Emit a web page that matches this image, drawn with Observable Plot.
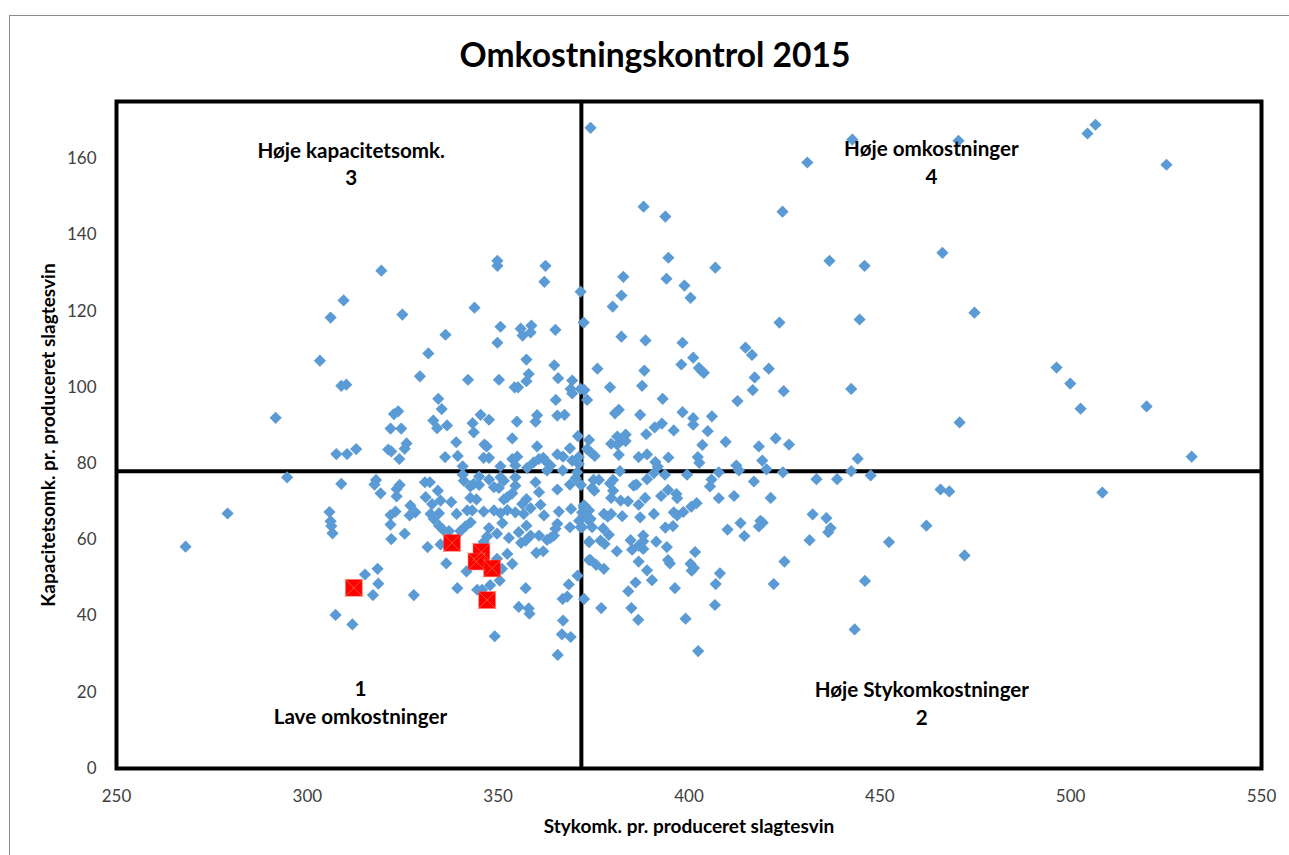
<!DOCTYPE html>
<html>
<head>
<meta charset="utf-8">
<style>
html,body{margin:0;padding:0;background:#fff;overflow:hidden}
#wrap{position:relative;width:1289px;height:855px;overflow:hidden}
#border{position:absolute;left:9px;top:15px;width:1400px;height:1000px;border:1.5px solid #8c8c8c;box-sizing:border-box}
#title{position:absolute;left:355px;width:600px;top:31px;text-align:center;font:700 33.6px Lato,sans-serif;color:#000;line-height:46px;white-space:nowrap}
svg{position:absolute;left:0;top:0}
</style>
<script src="https://cdn.jsdelivr.net/npm/d3@7"></script>
<script src="https://cdn.jsdelivr.net/npm/@observablehq/plot@0.6"></script>
</head>
<body>
<div id="wrap"><div id="border"></div><div id="title">Omkostningskontrol 2015</div></div>
<script>
const titleText = "Omkostningskontrol 2015";
const xLabel = "Stykomk. pr. produceret slagtesvin";
const yLabel = "Kapacitetsomk. pr. produceret slagtesvin";
const xTicks = [250,300,350,400,450,500,550];
const yTicks = [0,20,40,60,80,100,120,140,160];
const xDivider = 371.8;
const yDivider = 78;

const stykomk = [
303.3,331.7,357.4,364.7,329.5,342.1,350.2,358,357.4,365.7,369.4,308.9,310.2,354.3,355.2,369,369.4,371.6,372.6,373.3,
365.1,334.3,335.2,291.7,323.8,322.7,345.4,360.2,365.5,367.4,359.8,347.6,343.3,333,336.6,334,354.9,321.8,324.6,343.6,
370.9,353.7,339,326,325.5,346.4,347,360.2,368.8,373.8,312.8,310.4,307.6,321.2,322,324.1,336.1,339.4,346.2,347.6,
365.5,367,355,353.7,354.5,359.3,360.7,361.8,362.8,363.7,369.4,371.1,371.1,350.6,340.7,357.6,362.8,366.9,370.7,340.7,
345,294.7,341,347.6,350.6,354.5,351.5,370.3,318,317.6,308.9,330.8,332.1,359.8,365.5,368.8,371.7,343.6,345,342.7,
348.9,350.2,354.5,324.2,323.4,334.2,319.2,360.7,323.4,331,342.7,344.3,352.4,353.7,351.5,357.4,334.9,332.7,337.7,356.3,
361.1,327,369.1,372.6,373.3,328.3,323.1,321.8,326.8,305.8,332.3,334.5,339.1,341.9,343.2,346.2,348.9,350.6,352.4,354.5,
356.7,358.5,362,365.9,
306.1,306.3,306.6,321.8,322,325.5,333.1,334.5,335.6,337.1,342.8,341.4,340.1,351.1,347.6,357.4,355.4,352.8,349.7,347.1,
346.2,365.5,365,368.8,372,358.5,357.2,356,360.7,362.8,364.6,363.7,373.8,360,361.8,334.9,331.5,352.4,336.4,353.7,
349.7,351,373.8,341.7,315.1,318.4,318.6,317.2,327.9,339.3,344.5,345.8,347.9,350.4,357.2,370.8,368.5,366.9,368.1,372.5,
355.4,358,358.2,367,366.7,369,349.1,307.4,311.8,365.6,
416.5,401.1,398,420.9,376,388.3,402.6,403.2,403.9,417.2,379.3,387.7,416.7,424.8,442.5,393.1,412.7,381.6,380.6,387.2,
398.3,401.1,406,392.9,391,401.1,396,404.9,388.8,383.4,381.2,382.5,379.6,381.2,383.4,409.6,403.5,422.7,418.3,426.2,
373.3,374.2,375.3,381.6,386.8,389,394.6,402.3,402.7,391.2,391.8,419.2,444.2,412.4,413.1,420.3,381.9,390.8,393.7,399.5,
407.8,424.6,442.5,447.6,389,375,376.4,380.1,379.3,386.2,385.5,405.9,405.5,417,433.4,438.8,374.6,375.2,380.1,379.6,
394.5,396.7,396.9,392.7,388.5,382.1,384,386.8,407.8,411.8,421.4,402,400.6,398.5,396,396.9,390.8,382.5,387.2,372.4,
373.3,372,377.7,379.6,378.7,432.4,436,
373.8,374.6,371.6,393.8,395.8,377.5,379,410.1,413.5,414.5,418.7,419.3,418.3,437.1,436.5,431.6,452.4,373.9,376.8,377.9,
384.7,388,388,386.8,385.1,388,391.4,394.2,381.1,401.6,374.2,375.7,377.7,386.8,394.5,395,400.4,401.3,400.7,425,
389,408.1,390.3,386,407,422.2,446.1,384.1,396.3,377,384.9,406.8,386.7,399.1,443.4,402.4,
268.1,279.1,319.4,309.5,306.1,324.9,336.2,343.8,349.8,349.8,362.4,362.1,371.6,372.4,350.6,349.8,355.9,356.4,358.7,358.5,
365,374.2,431,442.8,470.6,504.4,506.5,525.1,424.5,388.1,393.8,394.6,394.1,382.8,382.3,380,406.9,398.8,400.4,436.8,
446,466.4,474.8,444.7,423.7,382.3,388.6,398.3,414.8,496.3,499.9,502.6,519.9,470.9,531.7,508.3,465.9,468.2,462.2,472.2,
372.4,373.8,372.4,374.2,371.2
];
const kapacitet = [
107,108.9,107.3,105.8,102.9,102,102,103.5,101.6,102.4,101.8,100.4,100.7,100,100,99.6,98.4,99.6,99.3,96.7,
96.7,97,94.3,92,93.7,93,92.8,92.7,92.6,92.8,91,91.5,90.6,91.3,90,89.3,91,89.2,89.2,88.2,
87.2,86.6,85.6,85.3,83.9,85,84.5,84.5,84,86.2,83.8,82.5,82.5,83.7,83.2,81.2,81.7,82,81.5,81.5,
82.4,81.8,81.8,81.2,79.5,80.3,81.2,81.5,80.3,79.5,80.8,81.7,79.9,79.3,79.3,78.9,78.2,78.2,77.7,77.1,
76.6,76.4,75.5,75.8,76.4,76.4,75.5,76.2,75.7,74.5,74.7,75.1,75.1,75.1,73.2,74.5,74.4,74.7,74.4,74,
73.8,73.6,74.2,74.4,73.3,72.9,72.2,72.5,71.4,71.2,71,70.6,71.2,72.2,70.6,70.7,70.3,69.4,69.9,69.4,
69.2,69,68.1,69,67.7,67.2,67.4,66.5,66.4,67.3,66.8,67,66.8,67.7,67.7,67.4,67.7,67,67.8,67.2,
66.8,68.3,66.4,67.4,
64.9,63.6,61.7,64,60.2,61.6,65.5,63.7,62.6,62.3,64.6,63.5,62.3,64.4,63.1,63.7,62,60.5,61.6,60.9,
59.4,64.2,62.9,63.3,63.3,61.1,59.8,59.2,61.1,60,61.1,60.5,59.4,56.6,57,58.8,58.1,56.3,53.8,53.7,
55,52.4,54.7,51.7,50.9,52.4,48.5,45.5,45.5,47.3,46.9,46.9,48.1,49.3,47.3,50.6,48.3,44.5,45.1,44.5,
42.4,42,40.6,38.8,35.2,34.5,34.7,40.3,37.8,29.8,
108.5,107.8,106,104.9,104.9,104.4,105.1,104.4,103.8,102.6,100,100.4,99.3,99,99.6,97,96.4,94.1,93.2,92.8,
93.5,91.9,92.4,90.5,89.5,90.2,88.7,88.5,87.7,87.6,87.1,86.2,85.2,85,85.9,85.7,84.9,86.6,84.5,85,
83.8,83,82,82.3,81.7,82.4,81.6,81.7,80.2,80.4,79.2,80.8,81.3,79.5,78.2,78.5,78,77.5,77.1,77.1,
77.7,77.7,78,76.9,75.9,75.7,75.7,75.7,74.8,74.5,74.2,75.8,74,75.3,75.9,75.9,73.6,72.9,72.9,71,
73.1,72,70.9,71.5,71,70.3,70.1,69.2,70.9,71.5,71,69.6,68.7,67.3,67.2,66.4,66.8,66.2,65.9,69,
68.1,67.2,66.8,66.8,66.1,66.7,65.7,
65,63.3,63.3,63.2,63.6,63,61.3,62.7,64.4,61,65,64.5,63.5,63.1,62,59.9,59.4,59.5,59.8,58.9,
59.9,61.1,59.6,58.5,57.4,57.6,59.5,58.1,57,56.8,54.7,53.4,52.4,54.3,54.7,53.8,53.7,52.6,51.9,54.3,
52,51.2,49.4,48.8,48.4,48.4,49.2,46.5,47.3,42.1,42.1,42.9,39,39.3,36.5,30.8,
58.2,66.9,130.6,122.8,118.3,119.1,113.8,120.9,133.2,131.9,131.9,127.7,125.1,117,115.9,111.7,115.4,113.6,116.2,114.4,
115.1,168.1,159,165,164.7,166.6,168.9,158.4,146.1,147.4,144.8,134,128.5,129,124.1,121.2,131.4,126.7,123.5,133.2,
131.9,135.3,119.6,117.8,117,113.3,112.3,111.7,110.4,105.2,101,94.4,95,90.8,81.8,72.4,73.2,72.7,63.7,55.9,
68.5,67.7,66.4,65.5,65
];
const markedStykomk = [337.9,345.6,344.3,348.4,347.1,312.2];
const markedKapacitet = [59.2,56.8,54.3,52.5,44.2,47.4];

const labelNames = ["Høje kapacitetsomk.","3","Høje omkostninger","4","1","Lave omkostninger","Høje Stykomkostninger","2"];
const labelX = [311.5,311.5,463.5,463.5,313.9,313.9,461,461];
const labelY = [162,154.8,162.4,155.2,20.7,13.4,20.5,13.1];

const n = Math.min(stykomk.length, kapacitet.length);
const points = d3.range(n).map(i => ({x: stykomk[i], y: kapacitet[i]}));
const marked = markedStykomk.map((x,i) => ({x, y: markedKapacitet[i]}));
const labels = labelNames.map((t,i) => ({t, x: labelX[i], y: labelY[i]}));

const chart = Plot.plot({
  width: 1289, height: 855,
  marginLeft: 116, marginRight: 28, marginTop: 101, marginBottom: 87,
  style: {background: "transparent", fontFamily: "Lato, sans-serif"},
  x: {domain: [250,550]},
  y: {domain: [0,175]},
  marks: [
    Plot.ruleX([xDivider], {stroke:"#000", strokeWidth:4}),
    Plot.ruleY([yDivider], {stroke:"#000", strokeWidth:4}),
    Plot.dot(points, {x:"x", y:"y", symbol:"diamond2", r:5.5, fill:"#5b9bd5", stroke:"none"}),
    Plot.dot(marked, {x:"x", y:"y", symbol:"square", r:9.4, fill:"#ff0000", stroke:"#ff5050", strokeWidth:0.5}),
    Plot.dot(marked, {x:"x", y:"y", symbol:"times", r:8.6, fill:"none", stroke:"#ed7d31", strokeWidth:0.7}),
    Plot.frame({stroke:"#000", strokeWidth:4}),
    Plot.axisX({ticks:xTicks, tickSize:0, tickPadding:21, fontSize:17, color:"#404040", label:null, tickFormat:d=>String(d)}),
    Plot.axisY({ticks:yTicks, tickSize:0, tickPadding:20, fontSize:17, color:"#404040", label:null, tickFormat:d=>String(d)}),
    Plot.text([xLabel], {frameAnchor:"bottom", dy:64, fontSize:19, fontWeight:700, fill:"#000", text:d=>d}),
    Plot.text([yLabel], {frameAnchor:"left", textAnchor:"middle", dx:-68, rotate:-90, fontSize:19, fontWeight:700, fill:"#000", text:d=>d}),
    Plot.text(labels, {x:"x", y:"y", text:"t", fontSize:20.6, fontWeight:700, fill:"#000"})
  ]
});
document.getElementById("wrap").appendChild(chart);
</script>
</body>
</html>
